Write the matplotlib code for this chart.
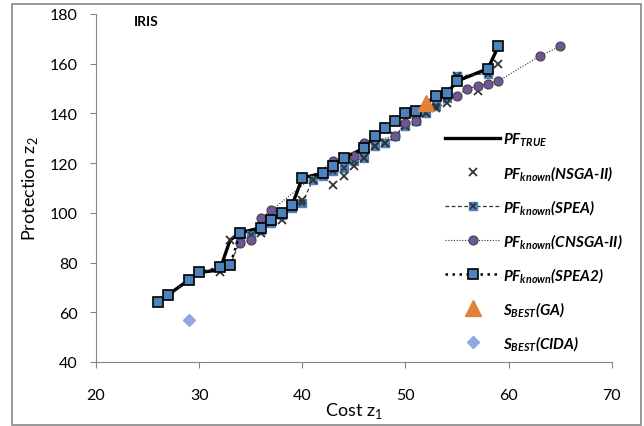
import matplotlib
matplotlib.use("Agg")
import matplotlib.pyplot as plt
from matplotlib.patches import Rectangle

plt.rcParams['font.family'] = ['Lato', 'DejaVu Sans']
plt.rcParams['mathtext.fontset'] = 'custom'
plt.rcParams['mathtext.it'] = 'Lato:italic:bold'
plt.rcParams['mathtext.rm'] = 'Lato'

# PF true front
true_x = [26, 27, 29, 30, 32, 33, 34, 36, 37, 38, 39, 40, 42, 43, 44, 46, 47, 48, 49, 50, 51, 52, 53, 54, 55, 58, 59]
true_y = [64, 67, 73, 76, 77, 89, 92, 94, 97, 100, 103, 114, 116, 119, 122, 126, 131, 134, 137, 140, 141, 144, 147, 148, 153, 158, 167]

# NSGA-II (markers only)
nsga_x = [32, 33, 36, 38, 40, 41, 43, 44, 45, 46, 47, 48, 49, 50, 51, 52, 53, 54, 55, 57, 59]
nsga_y = [76, 89, 92, 97, 105, 113, 111, 115, 119, 122, 127, 128, 131, 135, 137, 140, 142, 144, 155, 149, 160]

# SPEA
spea_x = [26, 27, 29, 30, 32, 33, 34, 35, 36, 37, 38, 39, 40, 41, 42, 43, 44, 45, 46, 47, 48, 49, 50, 51, 52, 53, 54, 55, 58]
spea_y = [64, 67, 73, 76, 78, 79, 89, 91, 93, 96, 99, 102, 104, 113, 115, 117, 118, 121, 122, 127, 128, 131, 135, 137, 140, 143, 146, 155, 156]

# CNSGA-II
cnsga_x = [34, 35, 36, 37, 43, 45, 46, 49, 50, 51, 55, 56, 57, 58, 59, 63, 65]
cnsga_y = [88, 89, 98, 101, 121, 123, 128, 131, 136, 137, 147, 150, 151, 152, 153, 163, 167]

# SPEA2
spea2_x = [26, 27, 29, 30, 32, 33, 34, 36, 37, 38, 39, 40, 42, 43, 44, 46, 47, 48, 49, 50, 51, 53, 54, 55, 58, 59]
spea2_y = [64, 67, 73, 76, 78, 79, 92, 94, 97, 100, 103, 114, 116, 119, 122, 126, 131, 134, 137, 140, 141, 147, 148, 153, 158, 167]

ga_x, ga_y = [52], [144]
cida_x, cida_y = [29], [57]

blue = '#4F81BD'
purple = '#705696'
orange = '#E0823C'
lightblue = '#8EA9DB'

fig = plt.figure(figsize=(6.44, 4.27), dpi=100)
ax = fig.add_axes([0.149, 0.150, 0.801, 0.815])

l_true, = ax.plot(true_x, true_y, color='black', lw=2.4, zorder=2)
l_spea, = ax.plot(spea_x, spea_y, color='#333333', lw=0.9, ls=(0, (3, 2)),
                  marker='s', ms=5.5, mfc=blue, mec=blue, zorder=3)
x_spea, = ax.plot(spea_x, spea_y, ls='none', marker='x', ms=5, mew=1.2, color='#333333', zorder=3)
l_nsga, = ax.plot(nsga_x, nsga_y, ls='none', marker='x', ms=5.5, mew=1.3, color='#333333', zorder=4)
l_cnsga, = ax.plot(cnsga_x, cnsga_y, color='#333333', lw=0.8, ls=(0, (1, 1.5)),
                   marker='o', ms=6.5, mfc=purple, mec='#444444', mew=0.8, zorder=4)
l_spea2, = ax.plot(spea2_x, spea2_y, color='black', lw=1.8, ls=(0, (1, 1.8)),
                   marker='s', ms=6.5, mfc=blue, mec='black', mew=1.2, zorder=5)
l_ga, = ax.plot(ga_x, ga_y, ls='none', marker='^', ms=11, color=orange, zorder=6)
l_cida, = ax.plot(cida_x, cida_y, ls='none', marker='D', ms=6, color=lightblue, zorder=6)

ax.set_xlim(20, 70)
ax.set_ylim(40, 180)
ax.set_xticks(range(20, 71, 10))
ax.set_yticks(range(40, 181, 20))

for s in ['top', 'right']:
    ax.spines[s].set_visible(False)
for s in ['left', 'bottom']:
    ax.spines[s].set_color('#868686')
ax.tick_params(axis='both', colors='#868686', labelcolor='black', labelsize=11.5, length=4, direction='out')
ax.tick_params(axis='x', pad=15)
ax.tick_params(axis='y', pad=9)

ax.set_xlabel(r'Cost z$_\mathregular{1}$', fontsize=13, labelpad=-2)
ax.set_ylabel(r'Protection z$_\mathregular{2}$', fontsize=13, labelpad=7)

ax.text(23.7, 177, 'IRIS', fontsize=10, fontweight='bold', va='center')

handles = [l_true, l_nsga, (l_spea, x_spea), l_cnsga, l_spea2, l_ga, l_cida]
labels = [r'$PF_{TRUE}$', r'$PF_{known}$(NSGA-II)', r'$PF_{known}$(SPEA)',
          r'$PF_{known}$(CNSGA-II)', r'$PF_{known}$(SPEA2)', r'$S_{BEST}$(GA)', r'$S_{BEST}$(CIDA)']
leg = ax.legend(handles, labels, loc='upper left', bbox_to_anchor=(0.65, 0.705),
                frameon=False, handlelength=3.6, handletextpad=0.2, labelspacing=1.0,
                prop={'family': 'Lato', 'weight': 'bold', 'style': 'italic', 'size': 11})

fig.add_artist(Rectangle((12 / 644, 0.002), 629 / 644, 1 - 4.5 / 427 - 0.002,
                         transform=fig.transFigure, fill=False, ec='#868686', lw=1.2))

fig.savefig('out.png', dpi=100)
